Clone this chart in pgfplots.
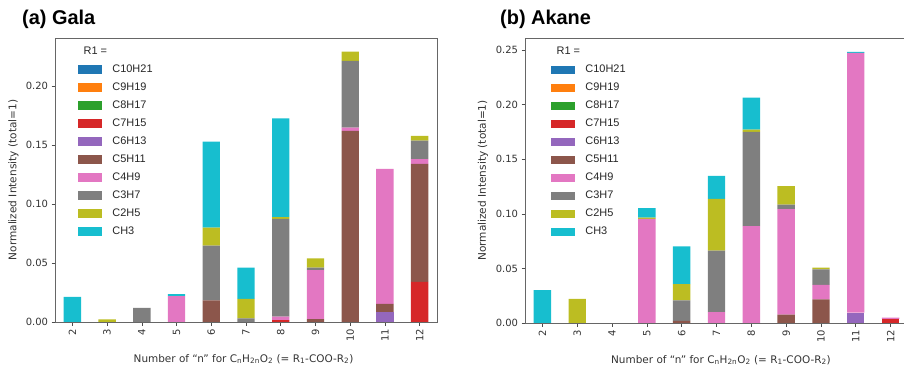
\documentclass[border=0pt]{standalone}
\usepackage{fontspec}
\setmainfont{Liberation Sans}
\newfontfamily\dejavu{DejaVu Sans}
\usepackage{pgfplots}
\usepackage{pgfplotstable}
\pgfplotsset{compat=1.18}

\definecolor{cA}{HTML}{1F77B4}
\definecolor{cB}{HTML}{FF7F0E}
\definecolor{cC}{HTML}{2CA02C}
\definecolor{cD}{HTML}{D62728}
\definecolor{cE}{HTML}{9467BD}
\definecolor{cF}{HTML}{8C564B}
\definecolor{cG}{HTML}{E377C2}
\definecolor{cH}{HTML}{7F7F7F}
\definecolor{cI}{HTML}{BCBD22}
\definecolor{cJ}{HTML}{17BECF}

\pgfplotstableread{
n  C10 C9 C8 C7     C6     C5     C4     C3     C2     CH3
2  0   0  0  0      0      0      0      0      0      0.0212
3  0   0  0  0      0      0      0      0      0.0023 0
4  0   0  0  0      0      0      0      0.012  0      0
5  0   0  0  0      0      0      0.022  0      0      0.0017
6  0   0  0  0      0      0.0184 0      0.0463 0.0153 0.0728
7  0   0  0  0      0      0      0      0.003  0.0165 0.0265
8  0   0  0  0.0015 0      0      0.003  0.083  0.0014 0.0837
9  0   0  0  0      0      0.0025 0.0415 0.002  0.008  0
10 0   0  0  0      0      0.162  0.0028 0.0565 0.0078 0
11 0   0  0  0      0.0085 0.0068 0.1144 0      0      0
12 0   0  0  0.034  0      0.100  0.004  0.0157 0.004  0
}\gala

\pgfplotstableread{
n  C10 C9 C8 C7     C6     C5     C4     C3     C2     CH3
2  0   0  0  0      0      0      0      0      0      0.030
3  0   0  0  0      0      0      0      0      0.022  0
4  0   0  0  0      0      0      0      0      0      0
5  0   0  0  0      0      0      0.0954 0      0.0012 0.0086
6  0   0  0  0      0      0.002  0      0.0187 0.015  0.0344
7  0   0  0  0      0      0      0.010  0.0562 0.0475 0.0211
8  0   0  0  0      0      0      0.0887 0.0863 0.0021 0.0293
9  0   0  0  0      0      0.0076 0.0967 0.0042 0.0168 0
10 0   0  0  0      0      0.0216 0.0132 0.0143 0.0015 0
11 0   0  0  0      0.0095 0      0.2378 0      0      0.001
12 0   0  0  0.0037 0      0      0.0012 0      0      0
}\akane

\pgfplotsset{
  legimg/.style={legend image code/.code={\fill[##1] (0bp,-4.15bp) rectangle (24.7bp,4.15bp);}},
  panel/.style={
    ybar stacked, bar width=0.5,
    scale only axis,
    xmin=1.5, xmax=12.5, ymin=0,
    xtick={2,3,4,5,6,7,8,9,10,11,12},
    ytick={0,0.05,0.1,0.15,0.2,0.25},
    yticklabel={\pgfmathprintnumber[fixed,fixed zerofill,precision=2]{\tick}},
    /pgf/number format/assume math mode=true,
    tick label style={font=\dejavu\fontsize{10}{12}\selectfont, text=black!80},
    xticklabel style={rotate=90, anchor=east},
    tick align=outside, tick pos=left,
    major tick length=3.5bp,
    tick style={black!70, line width=0.6pt},
    axis line style={black!60, line width=0.8pt},
    ylabel style={font=\dejavu\fontsize{10.6}{12}\selectfont, text=black!80},
    xlabel style={font=\dejavu\fontsize{10.5}{12}\selectfont, text=black!80},
    ylabel={Normalized Intensity (total=1)},
    xlabel={Number of “n” for C\textsubscript{n}H\textsubscript{2n}O\textsubscript{2} (= R\textsubscript{1}-COO-R\textsubscript{2})},
    legend cell align=left,
    legend style={draw=none, fill=none, inner sep=0pt,
      font=\fontsize{11}{12}\selectfont, text=black!85, row sep=5.5bp, column sep=8.5bp,
      nodes={inner sep=1.5bp, text height=7.5bp, text depth=2bp}},
  },
}

\begin{document}
\begin{tikzpicture}
\useasboundingbox (0,0) rectangle (904bp,373bp);

\node[anchor=base west, inner sep=0pt, font=\bfseries\fontsize{20}{24}\selectfont] at (22bp,348.5bp) {(a) Gala};
\node[anchor=base west, inner sep=0pt, font=\bfseries\fontsize{20}{24}\selectfont] at (500bp,348.5bp) {(b) Akane};

\begin{axis}[panel, at={(55bp,51bp)}, anchor=south west,
  width=382bp, height=284bp, ymax=0.2407,
  ylabel style={at={(axis description cs:-0.1086,0.5)}, anchor=center},
  xlabel style={at={(axis description cs:0.4935,-0.1303)}, anchor=center},
  legend style={at={(axis description cs:0.0589,0.9754)}, anchor=north west}]
\addlegendimage{empty legend}\addlegendentry{\hspace*{-32bp}R1 =}
\addplot[fill=cA, draw=none, legimg] table[x=n, y=C10] {\gala}; \addlegendentry{C10H21}
\addplot[fill=cB, draw=none, legimg] table[x=n, y=C9] {\gala}; \addlegendentry{C9H19}
\addplot[fill=cC, draw=none, legimg] table[x=n, y=C8] {\gala}; \addlegendentry{C8H17}
\addplot[fill=cD, draw=none, legimg] table[x=n, y=C7] {\gala}; \addlegendentry{C7H15}
\addplot[fill=cE, draw=none, legimg] table[x=n, y=C6] {\gala}; \addlegendentry{C6H13}
\addplot[fill=cF, draw=none, legimg] table[x=n, y=C5] {\gala}; \addlegendentry{C5H11}
\addplot[fill=cG, draw=none, legimg] table[x=n, y=C4] {\gala}; \addlegendentry{C4H9}
\addplot[fill=cH, draw=none, legimg] table[x=n, y=C3] {\gala}; \addlegendentry{C3H7}
\addplot[fill=cI, draw=none, legimg] table[x=n, y=C2] {\gala}; \addlegendentry{C2H5}
\addplot[fill=cJ, draw=none, legimg] table[x=n, y=CH3] {\gala}; \addlegendentry{CH3}
\end{axis}

\begin{axis}[panel, at={(525bp,50bp)}, anchor=south west,
  width=383bp, height=285bp, ymax=0.261,
  ylabel style={at={(axis description cs:-0.1097,0.5)}, anchor=center},
  xlabel style={at={(axis description cs:0.5117,-0.1298)}, anchor=center},
  legend style={at={(axis description cs:0.0666,0.9737)}, anchor=north west}]
\addlegendimage{empty legend}\addlegendentry{\hspace*{-32bp}R1 =}
\addplot[fill=cA, draw=none, legimg] table[x=n, y=C10] {\akane}; \addlegendentry{C10H21}
\addplot[fill=cB, draw=none, legimg] table[x=n, y=C9] {\akane}; \addlegendentry{C9H19}
\addplot[fill=cC, draw=none, legimg] table[x=n, y=C8] {\akane}; \addlegendentry{C8H17}
\addplot[fill=cD, draw=none, legimg] table[x=n, y=C7] {\akane}; \addlegendentry{C7H15}
\addplot[fill=cE, draw=none, legimg] table[x=n, y=C6] {\akane}; \addlegendentry{C6H13}
\addplot[fill=cF, draw=none, legimg] table[x=n, y=C5] {\akane}; \addlegendentry{C5H11}
\addplot[fill=cG, draw=none, legimg] table[x=n, y=C4] {\akane}; \addlegendentry{C4H9}
\addplot[fill=cH, draw=none, legimg] table[x=n, y=C3] {\akane}; \addlegendentry{C3H7}
\addplot[fill=cI, draw=none, legimg] table[x=n, y=C2] {\akane}; \addlegendentry{C2H5}
\addplot[fill=cJ, draw=none, legimg] table[x=n, y=CH3] {\akane}; \addlegendentry{CH3}
\end{axis}
\end{tikzpicture}
\end{document}
